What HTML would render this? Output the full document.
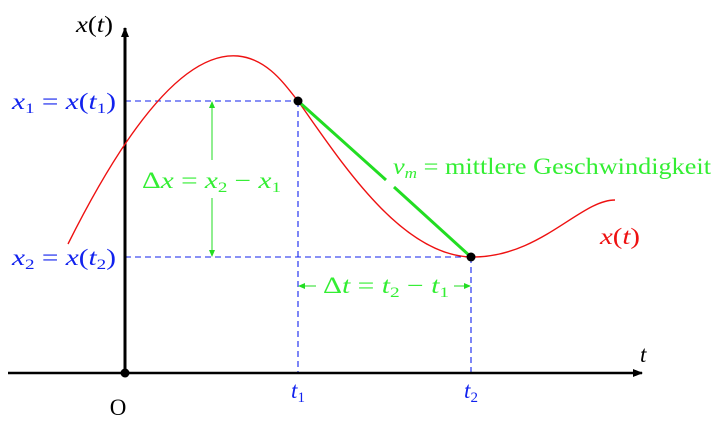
<!DOCTYPE html>
<html><head><meta charset="utf-8"><style>
html,body{margin:0;padding:0;background:#fff}
svg{display:block}
text{font-family:"Liberation Serif",serif;font-size:23px}
.m{font-style:italic}
</style></head><body>
<svg width="724" height="428" viewBox="0 0 724 428">
<defs>
<marker id="ah" markerWidth="10" markerHeight="8" refX="9" refY="4" orient="auto" markerUnits="userSpaceOnUse"><path d="M0,0 L10,4 L0,8 z" fill="#000"/></marker>
<marker id="ga" markerWidth="7" markerHeight="6" refX="6" refY="3" orient="auto" markerUnits="userSpaceOnUse"><path d="M0,0 L7,3 L0,6 z" fill="#2d2"/></marker>
</defs>
<g stroke="#1122ee" stroke-width="1.1" stroke-dasharray="6,4" fill="none">
<line x1="125" y1="101" x2="298" y2="101"/>
<line x1="125" y1="257" x2="471" y2="257"/>
<line x1="298" y1="101" x2="298" y2="373"/>
<line x1="471" y1="257" x2="471" y2="373"/>
</g>
<line x1="8" y1="373" x2="642" y2="373" stroke="#000" stroke-width="2.5" marker-end="url(#ah)"/>
<line x1="125" y1="373" x2="125" y2="28" stroke="#000" stroke-width="3" marker-end="url(#ah)"/>
<circle cx="125" cy="373" r="4.5" fill="#000"/>
<path d="M68,244 C100,180 170,50 238,56 C268,59 285,85 298,101 C340,160 400,255 471,257 C540,258 580,200 615,200" fill="none" stroke="#ee1111" stroke-width="1.4"/>
<line x1="298" y1="101" x2="386" y2="180" stroke="#22dd22" stroke-width="3"/>
<line x1="394" y1="187" x2="471" y2="257" stroke="#22dd22" stroke-width="3"/>
<circle cx="298" cy="101" r="4.5" fill="#000"/>
<circle cx="471" cy="257" r="4.5" fill="#000"/>
<line x1="212" y1="160" x2="212" y2="102" stroke="#2d2" stroke-width="1" marker-end="url(#ga)"/>
<line x1="212" y1="198" x2="212" y2="256" stroke="#2d2" stroke-width="1" marker-end="url(#ga)"/>
<line x1="316" y1="286" x2="299" y2="286" stroke="#2d2" stroke-width="1" marker-end="url(#ga)"/>
<line x1="454" y1="286" x2="470" y2="286" stroke="#2d2" stroke-width="1" marker-end="url(#ga)"/>
<text x="76" y="32" class="m" textLength="37" lengthAdjust="spacingAndGlyphs">x<tspan font-style="normal">(</tspan>t<tspan font-style="normal">)</tspan></text>
<text x="640" y="362" class="m">t</text>
<text x="118" y="415" text-anchor="middle">O</text>
<text x="298" y="398" text-anchor="middle" fill="#1122ee" class="m">t<tspan font-size="15" font-style="normal" dy="4">1</tspan></text>
<text x="471" y="398" text-anchor="middle" fill="#1122ee" class="m">t<tspan font-size="15" font-style="normal" dy="4">2</tspan></text>
<text x="12" y="109" fill="#1122ee" textLength="104" lengthAdjust="spacingAndGlyphs"><tspan font-style="italic">x</tspan><tspan font-size="15" dy="4">1</tspan><tspan dy="-4"> = </tspan><tspan font-style="italic">x</tspan>(<tspan font-style="italic">t</tspan><tspan font-size="15" dy="4">1</tspan><tspan dy="-4">)</tspan></text>
<text x="12" y="265" fill="#1122ee" textLength="104" lengthAdjust="spacingAndGlyphs"><tspan font-style="italic">x</tspan><tspan font-size="15" dy="4">2</tspan><tspan dy="-4"> = </tspan><tspan font-style="italic">x</tspan>(<tspan font-style="italic">t</tspan><tspan font-size="15" dy="4">2</tspan><tspan dy="-4">)</tspan></text>
<text x="142" y="188" fill="#33ee33" textLength="139" lengthAdjust="spacingAndGlyphs">Δ<tspan font-style="italic">x</tspan> = <tspan font-style="italic">x</tspan><tspan font-size="15" dy="4">2</tspan><tspan dy="-4"> − </tspan><tspan font-style="italic">x</tspan><tspan font-size="15" dy="4">1</tspan></text>
<text x="323" y="293" fill="#33ee33" textLength="126" lengthAdjust="spacingAndGlyphs">Δ<tspan font-style="italic">t</tspan> = <tspan font-style="italic">t</tspan><tspan font-size="15" dy="4">2</tspan><tspan dy="-4"> − </tspan><tspan font-style="italic">t</tspan><tspan font-size="15" dy="4">1</tspan></text>
<text x="393" y="174" fill="#33ee33" textLength="318" lengthAdjust="spacingAndGlyphs"><tspan font-style="italic">v</tspan><tspan font-size="15" font-style="italic" dy="4">m</tspan><tspan dy="-4"> = mittlere Geschwindigkeit</tspan></text>
<text x="600" y="244" fill="#ee1111" textLength="40" lengthAdjust="spacingAndGlyphs"><tspan font-style="italic">x</tspan>(<tspan font-style="italic">t</tspan>)</text>
</svg>
</body></html>
